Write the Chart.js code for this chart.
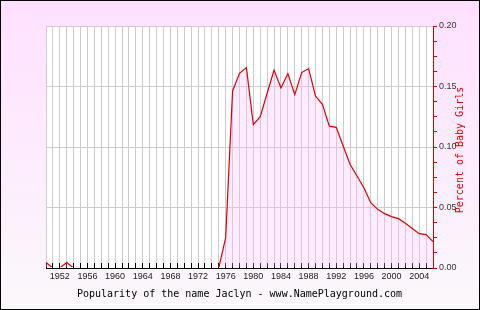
<!DOCTYPE html>
<html>
<head>
<meta charset="utf-8">
<script src="https://cdn.jsdelivr.net/npm/chart.js@4.4.1/dist/chart.umd.min.js"></script>
<style>
  html, body { margin: 0; padding: 0; background: #fff; }
  #wrap { width: 480px; height: 310px; }
</style>
</head>
<body>
<div id="wrap"><canvas id="chart-name" width="480" height="310"></canvas></div>
<script>
// years on the x axis (one grid line per year)
const years = [
  1950, 1951, 1952, 1953, 1954, 1955, 1956, 1957, 1958, 1959,
  1960, 1961, 1962, 1963, 1964, 1965, 1966, 1967, 1968, 1969,
  1970, 1971, 1972, 1973, 1974, 1975, 1976, 1977, 1978, 1979,
  1980, 1981, 1982, 1983, 1984, 1985, 1986, 1987, 1988, 1989,
  1990, 1991, 1992, 1993, 1994, 1995, 1996, 1997, 1998, 1999,
  2000, 2001, 2002, 2003, 2004, 2005, 2006
];

// percent of baby girls named Jaclyn
const percentGirls = [
  0.0045, 0, 0, 0.0045, 0, 0, 0, 0, 0, 0,
  0, 0, 0, 0, 0, 0, 0, 0, 0, 0,
  0, 0, 0, 0, 0, 0, 0.0251, 0.1463, 0.1609, 0.1656,
  0.1185, 0.1251, 0.1444, 0.1636, 0.1488, 0.1607, 0.1433, 0.1615, 0.1648, 0.1421,
  0.1353, 0.1172, 0.1162, 0.1008, 0.0857, 0.0760, 0.0664, 0.0540, 0.0485, 0.0449,
  0.0425, 0.0408, 0.0369, 0.0326, 0.0284, 0.0276, 0.0218
];

const yearLabelStart = 1952;   // labels every 4 years from here
const yearLabelEvery = 4;
const yMax = 0.20;
const yMinorStep = 0.0125;
const yMajorStep = 0.05;

const chartTitle = 'Popularity of the name Jaclyn - www.NamePlayground.com';
const yTitle = 'Percent of Baby Girls';

const RED = '#dd0000';
const GRID = '#cccccc';
const firstYear = years[0];
const lastYear = years[years.length - 1];

const isMajor = v => Math.abs(v / yMajorStep - Math.round(v / yMajorStep)) < 1e-6;

// background gradient, white plot area, outer border and the rotated y title
const framePlugin = {
  id: 'frame',
  beforeDraw(chart) {
    const { ctx, chartArea: a, width, height } = chart;
    ctx.save();
    const g = ctx.createLinearGradient(0, 0, 0, height);
    g.addColorStop(0, '#ffe0ff');
    g.addColorStop(1, '#fbf8fb');
    ctx.fillStyle = g;
    ctx.fillRect(0, 0, width, height);
    ctx.fillStyle = '#ffffff';
    ctx.fillRect(a.left, a.top, a.right - a.left, a.bottom - a.top);
    ctx.restore();
  },
  afterDraw(chart) {
    const { ctx, chartArea: a, width, height } = chart;
    ctx.save();
    ctx.translate(460, (a.top + a.bottom) / 2 + 3);
    ctx.rotate(-Math.PI / 2);
    ctx.font = '10px "DejaVu Sans Mono"';
    ctx.fillStyle = RED;
    ctx.textAlign = 'center';
    ctx.textBaseline = 'middle';
    ctx.fillText(yTitle, 0, 0);
    ctx.restore();

    ctx.save();
    ctx.strokeStyle = '#000';
    ctx.lineWidth = 1;
    ctx.strokeRect(0.5, 0.5, width - 1, height - 1);
    ctx.restore();
  }
};

Chart.defaults.font.family = '"Liberation Sans", Arial, sans-serif';

new Chart(document.getElementById('chart-name'), {
  type: 'line',
  data: {
    datasets: [{
      data: years.map((y, i) => ({ x: y, y: percentGirls[i] })),
      borderColor: RED,
      borderWidth: 1.2,
      backgroundColor: 'rgba(255, 188, 255, 0.3)',
      fill: 'origin',
      pointRadius: 0,
      tension: 0,
      clip: { left: 0, top: 0, right: 0, bottom: -1 } // hide the zero run under the black axis
    }]
  },
  options: {
    responsive: false,
    animation: false,
    devicePixelRatio: 1,
    layout: { padding: { left: 46, top: 26, right: 0, bottom: 0 } },
    plugins: {
      legend: { display: false },
      tooltip: { enabled: false }
    },
    scales: {
      x: {
        type: 'linear',
        position: 'bottom',
        min: firstYear,
        max: lastYear,
        afterFit: s => { s.height = 42; },
        border: { color: '#000000', width: 1 },
        grid: {
          color: c => (c.tick && c.tick.value === lastYear ? 'rgba(0,0,0,0)' : GRID),
          tickColor: c => (c.tick && c.tick.value === lastYear ? 'rgba(0,0,0,0)' : '#000000'),
          tickLength: -5,   // ticks point up into the plot
          drawTicks: true
        },
        ticks: {
          stepSize: 1,
          autoSkip: false,
          maxRotation: 0,
          padding: 8,
          color: '#222222',
          font: { size: 9 },
          callback: v => ((v - yearLabelStart) % yearLabelEvery === 0 && v >= yearLabelStart ? String(v) : '')
        },
        title: {
          display: true,
          text: chartTitle,
          color: '#000000',
          font: { family: '"DejaVu Sans Mono", monospace', size: 10 },
          padding: { top: 0, bottom: 9.5 }
        }
      },
      y: {
        position: 'right',
        min: 0,
        max: yMax,
        afterFit: s => { s.width = 47; },
        border: { color: RED, width: 1 },
        grid: {
          color: c => (c.tick && isMajor(c.tick.value) && c.tick.value > 0 ? GRID : 'rgba(0,0,0,0)'),
          tickColor: RED,
          tickLength: 4,
          drawTicks: true
        },
        ticks: {
          stepSize: yMinorStep,
          autoSkip: false,
          padding: 2,
          color: '#333333',
          font: { size: 9 },
          callback: v => (isMajor(v) ? v.toFixed(2) : '')
        }
      }
    }
  },
  plugins: [framePlugin]
});
</script>
</body>
</html>
